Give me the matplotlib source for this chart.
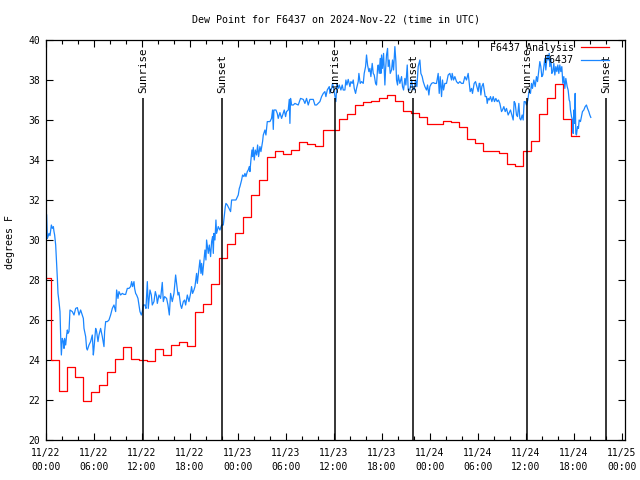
import matplotlib
matplotlib.use('Agg')
import matplotlib.pyplot as plt
from matplotlib.ticker import MultipleLocator, FixedLocator
import numpy as np

plt.rcParams['font.family'] = ['DejaVu Sans Mono', 'DejaVu Sans']
plt.rcParams['font.size'] = 7

# ---------------- data (hours since 2024-11-22 00:00 UTC) ----------------
title = "Dew Point for F6437 on 2024-Nov-22 (time in UTC)"
ylabel = "degrees F"

# hourly analysis values; each value becomes valid at hh:40
red_shift = -1.0 / 3.0
red_end_hour = 66.6
red_vals = [28.1, 24.0, 22.45, 23.67, 23.17, 21.97, 22.42, 22.75, 23.38, 24.03,
            24.63, 24.03, 23.98, 23.93, 24.53, 24.23, 24.73, 24.9, 24.7, 26.38,
            26.78, 27.8, 29.08, 29.8, 30.37, 31.17, 32.23, 32.98, 34.13, 34.47,
            34.28, 34.5, 34.9, 34.78, 34.7, 35.48, 35.5, 36.03, 36.28, 36.73,
            36.9, 36.95, 37.1, 37.23, 36.95, 36.45, 36.33, 36.13, 35.8, 35.8,
            35.93, 35.9, 35.67, 35.03, 34.87, 34.47, 34.47, 34.35, 33.8, 33.7,
            34.47, 34.95, 36.3, 37.1, 37.8, 36.03, 35.2]

# station observations (hour, value)
obs_day1 = [(0.08, 31.25), (0.17, 30.08), (0.25, 30.17), (0.375, 30.33), (0.5, 30.22),
            (0.67, 30.75), (0.79, 30.58), (0.92, 30.67), (1.0, 30.42), (1.08, 30.25),
            (1.21, 29.75), (1.33, 28.83), (1.42, 28.08), (1.5, 27.33), (1.625, 26.92),
            (1.75, 26.42), (1.83, 25.25), (1.92, 24.25), (2.04, 25.08), (2.17, 24.92),
            (2.25, 24.58), (2.33, 25.08), (2.46, 24.75), (2.58, 25.25), (2.67, 25.5),
            (2.75, 25.33), (2.875, 25.42), (3.0, 26.5), (3.29, 26.42), (3.5, 26.25),
            (3.71, 26.58), (3.92, 26.62), (4.125, 26.25), (4.33, 26.5), (4.54, 26.25),
            (4.67, 26.08), (4.75, 25.58), (4.83, 25.42), (4.96, 25.17), (5.08, 24.58),
            (5.17, 24.5), (5.375, 24.75), (5.58, 24.92), (5.79, 25.25), (5.92, 24.25),
            (6.0, 24.58), (6.21, 25.58), (6.33, 25.42), (6.5, 24.92), (6.625, 25.25),
            (6.83, 25.58), (7.04, 25.17), (7.25, 24.67), (7.33, 25.42), (7.46, 25.92),
            (7.67, 25.92), (7.875, 26.0), (8.08, 26.25), (8.29, 26.58), (8.5, 26.75),
            (8.71, 26.42), (8.83, 27.5), (9.0, 27.08), (9.125, 27.42), (9.33, 27.25),
            (9.54, 27.33), (9.75, 27.28), (9.96, 27.28), (10.17, 27.58), (10.375, 27.58),
            (10.58, 27.67), (10.71, 27.92), (10.83, 27.67), (11.0, 27.92), (11.08, 27.58),
            (11.21, 27.33), (11.33, 27.25), (11.5, 27.08), (11.625, 26.75), (11.75, 26.42),
            (11.92, 26.25), (12.04, 26.42), (12.17, 26.75), (12.375, 26.75), (12.5, 26.58),
            (12.67, 27.92), (12.79, 26.58), (13.0, 27.5), (13.17, 27.25), (13.29, 26.75),
            (13.5, 26.92), (13.67, 27.42), (13.83, 27.17), (13.92, 26.83), (14.125, 27.25),
            (14.33, 27.08), (14.54, 27.88), (14.67, 26.92), (14.83, 27.17), (15.08, 27.08),
            (15.25, 26.75), (15.42, 26.25), (15.58, 27.33), (15.79, 26.92), (16.0, 27.33),
            (16.21, 28.25), (16.33, 27.83), (16.5, 27.25), (16.625, 27.38), (16.83, 26.75),
            (16.96, 26.58), (17.17, 26.92), (17.33, 27.0), (17.46, 26.75), (17.67, 27.25),
            (17.875, 26.92), (18.08, 27.33), (18.2, 27.67), (18.33, 27.33), (18.5, 27.5),
            (18.625, 27.67), (18.75, 28.08), (18.83, 28.33), (18.92, 27.83), (19.25, 29.0),
            (19.375, 28.33), (19.46, 28.83), (19.58, 28.25), (19.75, 29.0), (19.875, 29.5),
            (20.0, 29.0), (20.08, 30.0), (20.29, 29.33), (20.42, 29.75), (20.58, 29.17),
            (20.71, 29.92), (20.83, 30.17), (20.92, 29.33), (21.0, 30.33), (21.125, 30.0),
            (21.25, 31.0), (21.33, 30.33), (21.54, 30.67), (21.75, 30.5), (21.96, 30.75),
            (22.17, 30.75), (22.29, 31.17), (22.42, 31.67), (22.5, 31.83), (22.67, 31.75),
            (23.08, 31.42), (23.21, 32.0), (23.42, 32.0), (23.75, 32.0)]
obs_day2 = [(24.04, 32.25), (24.17, 32.58), (24.25, 32.67), (24.46, 33.0), (24.58, 33.25),
            (24.75, 33.17), (24.875, 33.33), (25.0, 33.17), (25.17, 33.42), (25.29, 33.5),
            (25.42, 33.67), (25.5, 33.42), (25.625, 34.0), (25.75, 34.5), (25.83, 34.17),
            (25.92, 34.63), (26.04, 34.0), (26.17, 34.5), (26.33, 34.25), (26.46, 34.75),
            (26.58, 34.17), (26.75, 34.67), (26.875, 34.42), (27.08, 34.92), (27.17, 35.25),
            (27.375, 35.5), (27.5, 35.25), (27.67, 35.92), (28.0, 35.92), (28.2, 36.08),
            (28.33, 36.5), (28.42, 35.53), (28.5, 36.5), (28.75, 36.5), (28.92, 36.33),
            (29.04, 36.08), (29.25, 36.37), (29.46, 36.08), (29.79, 36.5), (29.96, 36.17),
            (30.08, 36.42), (30.29, 36.5), (30.42, 37.03), (30.5, 35.83), (30.58, 37.08),
            (30.71, 36.75), (30.92, 36.75), (31.125, 36.83), (31.54, 36.75), (31.83, 37.08),
            (32.17, 37.03), (32.375, 36.83), (32.58, 37.08), (32.79, 36.75), (33.0, 37.03),
            (33.42, 37.03), (33.625, 36.75), (33.83, 36.75), (34.25, 36.92), (34.46, 37.17),
            (34.67, 37.33), (34.875, 37.42), (35.0, 37.17), (35.17, 37.5), (35.42, 37.67),
            (35.5, 37.33), (35.71, 37.58), (35.83, 37.83), (36.0, 37.5), (36.25, 36.92),
            (36.375, 37.83), (36.54, 37.58), (36.67, 37.75), (36.875, 37.5), (37.04, 37.75),
            (37.17, 37.5), (37.375, 37.5), (37.5, 38.0), (37.625, 37.75), (37.79, 38.03),
            (38.0, 37.67), (38.125, 37.92), (38.29, 37.83), (38.42, 38.0), (38.54, 37.58),
            (38.71, 37.33), (38.83, 37.58), (39.04, 37.92), (39.125, 38.33), (39.29, 37.83),
            (39.46, 37.92), (39.67, 37.83), (39.79, 38.33), (39.96, 38.67), (40.08, 39.25),
            (40.21, 38.75), (40.375, 38.42), (40.5, 38.58), (40.625, 38.17), (40.79, 38.83),
            (40.92, 38.33), (41.04, 38.25), (41.21, 37.83), (41.33, 37.75), (41.46, 38.58),
            (41.54, 38.75), (41.67, 38.33), (41.79, 39.08), (41.875, 38.33), (41.96, 39.25),
            (42.08, 38.58), (42.21, 39.33), (42.375, 37.75), (42.46, 38.5), (42.58, 39.25),
            (42.71, 39.58), (42.79, 38.67), (42.92, 39.0), (43.04, 38.33), (43.21, 38.5),
            (43.33, 39.0), (43.46, 38.5), (43.625, 39.67), (43.75, 38.92), (43.83, 38.0),
            (43.96, 37.75), (44.04, 38.25), (44.25, 37.83), (44.46, 38.17), (44.58, 37.67),
            (44.71, 37.5), (44.875, 38.08), (45.0, 37.75), (45.17, 38.75), (45.29, 37.5),
            (45.5, 37.5), (45.71, 38.0), (45.875, 37.58), (46.04, 37.5), (46.21, 38.0),
            (46.375, 37.67), (46.54, 38.67), (46.75, 39.0), (46.875, 38.33), (47.04, 38.17),
            (47.17, 37.92), (47.375, 37.67), (47.58, 37.5), (47.71, 37.75), (47.875, 37.25)]
obs_day3 = [(48.0, 37.67), (48.21, 37.83), (48.42, 37.87), (48.625, 37.83), (48.83, 37.83),
            (49.04, 38.33), (49.17, 37.33), (49.29, 38.17), (49.46, 37.17), (49.58, 38.0),
            (49.71, 37.5), (49.875, 37.83), (50.08, 37.83), (50.29, 38.25), (50.5, 38.33),
            (50.71, 38.0), (50.79, 38.33), (50.96, 38.0), (51.125, 38.17), (51.33, 37.92),
            (51.54, 37.83), (51.75, 37.92), (51.96, 37.83), (52.17, 37.83), (52.375, 38.17),
            (52.58, 38.0), (52.79, 38.33), (52.92, 37.83), (53.04, 37.42), (53.21, 37.58),
            (53.33, 37.33), (53.54, 37.83), (53.71, 37.92), (53.875, 37.67), (54.04, 37.42),
            (54.17, 37.83), (54.25, 37.83), (54.375, 37.25), (54.5, 37.67), (54.67, 37.83),
            (54.92, 37.17), (55.08, 37.17), (55.17, 36.83), (55.29, 37.08), (55.42, 37.0),
            (55.58, 37.17), (55.75, 36.92), (55.92, 37.17), (56.08, 36.92), (56.25, 37.08),
            (56.42, 36.92), (56.58, 37.0), (56.75, 36.83), (56.83, 36.67), (56.96, 36.42),
            (57.08, 36.5), (57.25, 36.67), (57.42, 36.42), (57.58, 36.58), (57.79, 36.25),
            (58.08, 36.5), (58.25, 36.25), (58.42, 36.0), (58.54, 36.92), (58.67, 36.83),
            (58.83, 36.25), (58.96, 36.17), (59.125, 36.83), (59.25, 36.08), (59.375, 36.0),
            (59.54, 36.25), (59.67, 36.0), (59.79, 36.92), (59.92, 36.92), (60.08, 36.75),
            (60.25, 37.0), (60.42, 37.5), (60.58, 37.33), (60.71, 37.83), (60.83, 37.58),
            (61.0, 38.0), (61.17, 37.67), (61.33, 38.17), (61.46, 37.92), (61.625, 38.5),
            (61.75, 38.92), (61.875, 38.67), (62.0, 38.17), (62.125, 38.25), (62.25, 38.67),
            (62.375, 39.08), (62.5, 38.5), (62.67, 39.25), (62.79, 39.0), (62.92, 39.33),
            (63.0, 38.67), (63.125, 39.08), (63.25, 38.33), (63.375, 38.42), (63.5, 38.83),
            (63.625, 38.25), (63.75, 38.67), (63.875, 38.42), (64.0, 38.75), (64.125, 38.33),
            (64.25, 38.75), (64.375, 38.42), (64.5, 38.67), (64.625, 37.83), (64.75, 38.17),
            (64.875, 37.58), (65.0, 38.08), (65.17, 37.67), (65.29, 37.5), (65.42, 37.0),
            (65.5, 36.92), (65.58, 36.5), (65.71, 36.17), (65.83, 36.0), (65.92, 35.33),
            (66.0, 36.5), (66.08, 35.83), (66.17, 37.33), (66.25, 35.33), (66.33, 35.25),
            (66.46, 35.67), (66.58, 35.58), (66.67, 36.0), (66.83, 35.92), (66.96, 36.17),
            (67.08, 36.42), (67.25, 36.5), (67.42, 36.67), (67.58, 36.75), (67.71, 36.58),
            (67.875, 36.42), (68.0, 36.25), (68.125, 36.13)]

sun_hours = [12.15, 22.0, 36.15, 45.95, 60.15, 70.0]
sun_labels = ["Sunrise", "Sunset", "Sunrise", "Sunset", "Sunrise", "Sunset"]

xtick_hours = list(range(0, 73, 6))
xtick_labels = ["11/22\n00:00", "11/22\n06:00", "11/22\n12:00", "11/22\n18:00",
                "11/23\n00:00", "11/23\n06:00", "11/23\n12:00", "11/23\n18:00",
                "11/24\n00:00", "11/24\n06:00", "11/24\n12:00", "11/24\n18:00",
                "11/25\n00:00"]
legend_labels = ["F6437 Analysis", "F6437"]

# ---------------- figure ----------------
fig = plt.figure(figsize=(6.4, 4.8), dpi=100)
ax = fig.add_axes([46 / 640, 40 / 480, 579 / 640, 400 / 480])

red_t = np.arange(len(red_vals)) + red_shift
red_t[0] = 0.0
red_t = np.append(red_t, red_end_hour)
red_y = np.append(red_vals, red_vals[-1])
ax.step(red_t, red_y, where='post', color='#ff0000', lw=0.9, label=legend_labels[0])

obs = np.array(obs_day1 + obs_day2 + obs_day3)
ax.plot(obs[:, 0], obs[:, 1], color='#1a86ff', lw=0.9, label=legend_labels[1])

for h, lab in zip(sun_hours, sun_labels):
    ax.vlines(h, 20, 37.1, color='black', lw=1.1)
    ax.text(h, 37.35, lab, rotation=90, ha='center', va='bottom', fontsize=7.8)

ax.set_xlim(0, 72.4)
ax.set_ylim(20, 40)
ax.xaxis.set_major_locator(FixedLocator(xtick_hours))
ax.set_xticklabels(xtick_labels, linespacing=1.45)
ax.xaxis.set_minor_locator(MultipleLocator(2))
ax.yaxis.set_major_locator(MultipleLocator(2))
ax.tick_params(which='both', direction='in', top=True, right=True, width=0.8)
ax.tick_params(which='major', length=5)
ax.tick_params(which='minor', length=3)
ax.tick_params(axis='x', pad=6)
ax.tick_params(axis='y', pad=4)
for s in ax.spines.values():
    s.set_linewidth(0.9)

ax.text(0.5, 1 + 20 / 400, title, transform=ax.transAxes, ha='center', va='center', fontsize=7.2)
fig.text(10 / 640, 1 - 242 / 480, ylabel, rotation=90, ha='center', va='center', fontsize=7.2)

ax.legend(loc='upper right', bbox_to_anchor=(1 - 16 / 579, 1 - 3 / 400), frameon=False,
          markerfirst=False, handlelength=2.8, handletextpad=0.75, labelspacing=0.25,
          borderpad=0, borderaxespad=0, fontsize=7.2)

fig.savefig('out.png', dpi=100)
